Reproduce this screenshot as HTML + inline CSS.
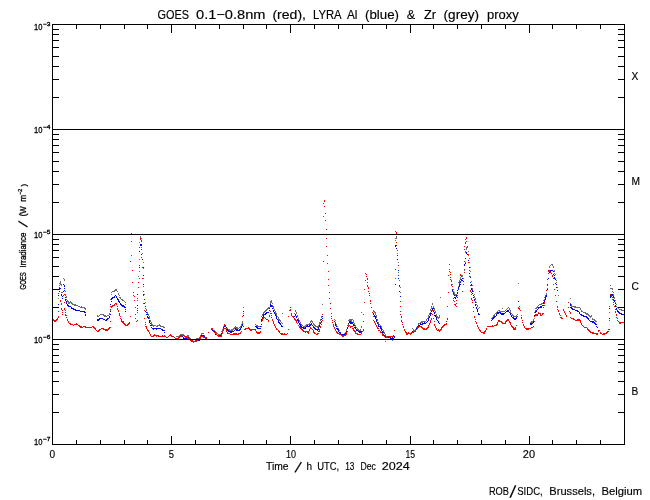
<!DOCTYPE html><html><head><meta charset="utf-8"><title>GOES LYRA proxy</title><style>html,body{margin:0;padding:0;background:#fff}svg{display:block}text{font-family:"Liberation Sans",sans-serif;fill:#000;stroke:#000;stroke-width:.15px}.s{stroke-width:.3px}</style></head><body>
<svg xmlns="http://www.w3.org/2000/svg" width="650" height="500" viewBox="0 0 650 500" shape-rendering="crispEdges">
<rect width="650" height="500" fill="#fff"/>
<path d="M58 298h1v1h-1zM59 285h1v1h-1zM59 283h1v1h-1zM60 282h1v1h-1zM60 281h1v1h-1zM60 283h1v1h-1zM60 284h1v1h-1zM61 284h1v1h-1zM61 285h1v1h-1zM61 292h1v1h-1zM62 292h1v1h-1zM63 278h1v1h-1zM64 279h1v1h-1zM64 280h1v1h-1zM65 291h1v1h-1zM65 294h1v1h-1zM65 295h1v1h-1zM66 296h1v1h-1zM66 297h1v1h-1zM66 299h1v1h-1zM67 300h1v1h-1zM67 301h1v1h-1zM68 301h1v1h-1zM68 302h1v1h-1zM68 303h1v1h-1zM69 302h1v1h-1zM69 303h1v1h-1zM70 302h1v1h-1zM70 301h1v1h-1zM71 302h1v1h-1zM71 303h1v1h-1zM72 304h1v1h-1zM72 303h1v1h-1zM73 304h1v1h-1zM74 304h1v1h-1zM74 305h1v1h-1zM75 304h1v1h-1zM75 305h1v1h-1zM76 305h1v1h-1zM77 305h1v1h-1zM78 306h1v1h-1zM79 306h1v1h-1zM80 307h1v1h-1zM81 306h1v1h-1zM81 307h1v1h-1zM82 307h1v1h-1zM83 307h1v1h-1zM84 307h1v1h-1zM84 308h1v1h-1zM85 308h1v1h-1zM85 309h1v1h-1zM97 315h1v1h-1zM97 316h1v1h-1zM98 316h1v1h-1zM99 315h1v1h-1zM100 314h1v1h-1zM101 314h1v1h-1zM102 314h1v1h-1zM103 314h1v1h-1zM103 315h1v1h-1zM104 315h1v1h-1zM104 316h1v1h-1zM105 316h1v1h-1zM105 315h1v1h-1zM106 316h1v1h-1zM107 315h1v1h-1zM108 315h1v1h-1zM109 314h1v1h-1zM109 313h1v1h-1zM110 311h1v1h-1zM110 310h1v1h-1zM110 299h1v1h-1zM111 294h1v1h-1zM111 292h1v1h-1zM112 291h1v1h-1zM113 291h1v1h-1zM114 291h1v1h-1zM114 290h1v1h-1zM115 290h1v1h-1zM115 289h1v1h-1zM116 289h1v1h-1zM116 290h1v1h-1zM117 291h1v1h-1zM118 293h1v1h-1zM118 294h1v1h-1zM119 295h1v1h-1zM119 297h1v1h-1zM120 297h1v1h-1zM120 298h1v1h-1zM121 299h1v1h-1zM122 299h1v1h-1zM122 300h1v1h-1zM123 300h1v1h-1zM124 301h1v1h-1zM125 302h1v1h-1zM125 304h1v1h-1zM125 307h1v1h-1zM137 300h1v1h-1zM138 282h1v1h-1zM138 276h1v1h-1zM139 271h1v1h-1zM139 259h1v1h-1zM139 242h1v1h-1zM140 236h1v1h-1zM140 237h1v1h-1zM141 238h1v1h-1zM141 247h1v1h-1zM142 253h1v1h-1zM143 262h1v1h-1zM143 268h1v1h-1zM143 278h1v1h-1zM143 286h1v1h-1zM144 294h1v1h-1zM145 302h1v1h-1zM145 308h1v1h-1zM146 309h1v1h-1zM146 310h1v1h-1zM147 312h1v1h-1zM147 313h1v1h-1zM148 314h1v1h-1zM148 315h1v1h-1zM149 316h1v1h-1zM149 317h1v1h-1zM149 318h1v1h-1zM150 320h1v1h-1zM150 321h1v1h-1zM151 322h1v1h-1zM151 323h1v1h-1zM151 324h1v1h-1zM152 324h1v1h-1zM152 325h1v1h-1zM153 325h1v1h-1zM153 326h1v1h-1zM154 325h1v1h-1zM155 325h1v1h-1zM156 326h1v1h-1zM157 326h1v1h-1zM157 325h1v1h-1zM158 325h1v1h-1zM159 324h1v1h-1zM159 325h1v1h-1zM160 325h1v1h-1zM160 326h1v1h-1zM161 326h1v1h-1zM162 326h1v1h-1zM163 326h1v1h-1zM163 327h1v1h-1zM164 327h1v1h-1zM176 336h1v1h-1zM177 336h1v1h-1zM178 337h1v1h-1zM178 336h1v1h-1zM179 336h1v1h-1zM179 335h1v1h-1zM180 335h1v1h-1zM180 334h1v1h-1zM181 334h1v1h-1zM182 334h1v1h-1zM183 334h1v1h-1zM184 335h1v1h-1zM185 336h1v1h-1zM186 336h1v1h-1zM187 336h1v1h-1zM187 335h1v1h-1zM188 335h1v1h-1zM188 336h1v1h-1zM189 337h1v1h-1zM189 338h1v1h-1zM190 338h1v1h-1zM190 340h1v1h-1zM191 340h1v1h-1zM192 341h1v1h-1zM193 342h1v1h-1zM193 341h1v1h-1zM194 341h1v1h-1zM195 341h1v1h-1zM195 340h1v1h-1zM195 339h1v1h-1zM196 338h1v1h-1zM197 338h1v1h-1zM198 338h1v1h-1zM199 338h1v1h-1zM199 337h1v1h-1zM200 337h1v1h-1zM200 336h1v1h-1zM200 335h1v1h-1zM201 334h1v1h-1zM201 333h1v1h-1zM202 333h1v1h-1zM203 333h1v1h-1zM204 335h1v1h-1zM205 337h1v1h-1zM206 337h1v1h-1zM206 338h1v1h-1zM211 328h1v1h-1zM212 329h1v1h-1zM213 330h1v1h-1zM214 330h1v1h-1zM214 331h1v1h-1zM215 331h1v1h-1zM216 332h1v1h-1zM216 333h1v1h-1zM217 333h1v1h-1zM218 334h1v1h-1zM219 334h1v1h-1zM220 334h1v1h-1zM221 334h1v1h-1zM221 333h1v1h-1zM221 331h1v1h-1zM222 330h1v1h-1zM222 329h1v1h-1zM223 327h1v1h-1zM223 326h1v1h-1zM224 324h1v1h-1zM225 325h1v1h-1zM225 326h1v1h-1zM226 327h1v1h-1zM226 328h1v1h-1zM227 328h1v1h-1zM228 329h1v1h-1zM228 330h1v1h-1zM229 329h1v1h-1zM229 330h1v1h-1zM230 330h1v1h-1zM231 330h1v1h-1zM231 329h1v1h-1zM232 329h1v1h-1zM232 330h1v1h-1zM233 329h1v1h-1zM233 328h1v1h-1zM234 328h1v1h-1zM234 327h1v1h-1zM235 326h1v1h-1zM235 327h1v1h-1zM236 327h1v1h-1zM236 328h1v1h-1zM237 327h1v1h-1zM237 328h1v1h-1zM238 328h1v1h-1zM239 327h1v1h-1zM240 327h1v1h-1zM240 326h1v1h-1zM241 325h1v1h-1zM241 324h1v1h-1zM242 322h1v1h-1zM242 321h1v1h-1zM243 313h1v1h-1zM243 307h1v1h-1zM255 324h1v1h-1zM256 325h1v1h-1zM257 325h1v1h-1zM257 326h1v1h-1zM258 326h1v1h-1zM259 326h1v1h-1zM260 326h1v1h-1zM261 321h1v1h-1zM261 316h1v1h-1zM262 315h1v1h-1zM262 314h1v1h-1zM263 313h1v1h-1zM263 312h1v1h-1zM264 312h1v1h-1zM264 311h1v1h-1zM265 311h1v1h-1zM265 310h1v1h-1zM266 310h1v1h-1zM266 309h1v1h-1zM267 308h1v1h-1zM267 309h1v1h-1zM268 308h1v1h-1zM268 307h1v1h-1zM269 307h1v1h-1zM270 303h1v1h-1zM270 302h1v1h-1zM270 301h1v1h-1zM271 300h1v1h-1zM271 301h1v1h-1zM271 302h1v1h-1zM272 303h1v1h-1zM272 305h1v1h-1zM273 306h1v1h-1zM273 307h1v1h-1zM273 308h1v1h-1zM274 309h1v1h-1zM274 310h1v1h-1zM275 311h1v1h-1zM275 312h1v1h-1zM275 313h1v1h-1zM276 313h1v1h-1zM276 314h1v1h-1zM276 315h1v1h-1zM277 316h1v1h-1zM278 317h1v1h-1zM278 318h1v1h-1zM278 319h1v1h-1zM279 319h1v1h-1zM279 320h1v1h-1zM280 320h1v1h-1zM280 321h1v1h-1zM281 322h1v1h-1zM282 323h1v1h-1zM282 313h1v1h-1zM294 313h1v1h-1zM295 311h1v1h-1zM295 310h1v1h-1zM296 312h1v1h-1zM296 313h1v1h-1zM297 315h1v1h-1zM297 316h1v1h-1zM298 318h1v1h-1zM298 319h1v1h-1zM299 320h1v1h-1zM299 321h1v1h-1zM300 322h1v1h-1zM300 323h1v1h-1zM301 324h1v1h-1zM301 325h1v1h-1zM302 325h1v1h-1zM303 326h1v1h-1zM304 327h1v1h-1zM304 326h1v1h-1zM305 326h1v1h-1zM305 325h1v1h-1zM306 325h1v1h-1zM306 324h1v1h-1zM307 324h1v1h-1zM308 324h1v1h-1zM309 324h1v1h-1zM309 323h1v1h-1zM310 322h1v1h-1zM310 321h1v1h-1zM311 321h1v1h-1zM311 320h1v1h-1zM312 321h1v1h-1zM312 322h1v1h-1zM313 323h1v1h-1zM313 324h1v1h-1zM314 324h1v1h-1zM314 325h1v1h-1zM315 325h1v1h-1zM315 326h1v1h-1zM316 326h1v1h-1zM317 327h1v1h-1zM317 326h1v1h-1zM318 326h1v1h-1zM318 325h1v1h-1zM319 324h1v1h-1zM319 323h1v1h-1zM319 322h1v1h-1zM320 322h1v1h-1zM320 320h1v1h-1zM320 319h1v1h-1zM321 317h1v1h-1zM321 316h1v1h-1zM322 304h1v1h-1zM334 319h1v1h-1zM335 320h1v1h-1zM335 322h1v1h-1zM336 324h1v1h-1zM336 325h1v1h-1zM336 326h1v1h-1zM337 326h1v1h-1zM337 328h1v1h-1zM338 328h1v1h-1zM338 329h1v1h-1zM338 330h1v1h-1zM339 330h1v1h-1zM339 332h1v1h-1zM339 333h1v1h-1zM340 332h1v1h-1zM340 334h1v1h-1zM341 334h1v1h-1zM342 334h1v1h-1zM342 335h1v1h-1zM343 334h1v1h-1zM343 335h1v1h-1zM344 334h1v1h-1zM344 333h1v1h-1zM345 332h1v1h-1zM346 330h1v1h-1zM346 329h1v1h-1zM347 327h1v1h-1zM347 325h1v1h-1zM348 324h1v1h-1zM348 320h1v1h-1zM349 320h1v1h-1zM349 319h1v1h-1zM350 319h1v1h-1zM350 320h1v1h-1zM351 321h1v1h-1zM351 320h1v1h-1zM351 319h1v1h-1zM352 319h1v1h-1zM353 320h1v1h-1zM353 321h1v1h-1zM353 322h1v1h-1zM354 323h1v1h-1zM354 324h1v1h-1zM355 325h1v1h-1zM355 326h1v1h-1zM356 327h1v1h-1zM357 328h1v1h-1zM357 329h1v1h-1zM358 329h1v1h-1zM358 330h1v1h-1zM359 330h1v1h-1zM360 330h1v1h-1zM360 329h1v1h-1zM361 327h1v1h-1zM361 326h1v1h-1zM361 312h1v1h-1zM373 310h1v1h-1zM373 311h1v1h-1zM374 311h1v1h-1zM374 312h1v1h-1zM375 312h1v1h-1zM375 313h1v1h-1zM375 314h1v1h-1zM376 315h1v1h-1zM376 316h1v1h-1zM376 317h1v1h-1zM377 319h1v1h-1zM377 320h1v1h-1zM378 322h1v1h-1zM378 323h1v1h-1zM378 324h1v1h-1zM379 324h1v1h-1zM380 325h1v1h-1zM380 326h1v1h-1zM381 326h1v1h-1zM381 327h1v1h-1zM381 328h1v1h-1zM382 329h1v1h-1zM383 330h1v1h-1zM383 331h1v1h-1zM383 332h1v1h-1zM384 332h1v1h-1zM384 333h1v1h-1zM385 334h1v1h-1zM385 335h1v1h-1zM385 336h1v1h-1zM386 336h1v1h-1zM387 337h1v1h-1zM387 336h1v1h-1zM388 337h1v1h-1zM388 336h1v1h-1zM389 337h1v1h-1zM390 337h1v1h-1zM390 338h1v1h-1zM391 338h1v1h-1zM391 339h1v1h-1zM392 340h1v1h-1zM392 339h1v1h-1zM393 339h1v1h-1zM393 338h1v1h-1zM394 336h1v1h-1zM395 278h1v1h-1zM395 240h1v1h-1zM395 238h1v1h-1zM396 237h1v1h-1zM396 236h1v1h-1zM396 238h1v1h-1zM397 253h1v1h-1zM398 262h1v1h-1zM398 272h1v1h-1zM399 280h1v1h-1zM400 287h1v1h-1zM400 292h1v1h-1zM385 341h1v1h-1zM412 328h1v1h-1zM413 329h1v1h-1zM413 330h1v1h-1zM414 330h1v1h-1zM415 330h1v1h-1zM415 329h1v1h-1zM416 328h1v1h-1zM416 327h1v1h-1zM417 326h1v1h-1zM418 325h1v1h-1zM418 324h1v1h-1zM418 323h1v1h-1zM419 323h1v1h-1zM420 322h1v1h-1zM421 322h1v1h-1zM421 321h1v1h-1zM422 322h1v1h-1zM422 321h1v1h-1zM423 321h1v1h-1zM424 321h1v1h-1zM425 321h1v1h-1zM426 320h1v1h-1zM426 319h1v1h-1zM427 318h1v1h-1zM428 317h1v1h-1zM428 316h1v1h-1zM428 315h1v1h-1zM429 314h1v1h-1zM429 313h1v1h-1zM430 312h1v1h-1zM430 310h1v1h-1zM430 309h1v1h-1zM431 308h1v1h-1zM431 307h1v1h-1zM431 306h1v1h-1zM432 303h1v1h-1zM432 304h1v1h-1zM433 306h1v1h-1zM433 307h1v1h-1zM433 308h1v1h-1zM434 308h1v1h-1zM434 309h1v1h-1zM434 310h1v1h-1zM435 311h1v1h-1zM435 312h1v1h-1zM436 314h1v1h-1zM436 315h1v1h-1zM436 316h1v1h-1zM437 316h1v1h-1zM437 317h1v1h-1zM438 318h1v1h-1zM438 317h1v1h-1zM439 317h1v1h-1zM439 316h1v1h-1zM439 315h1v1h-1zM440 297h1v1h-1zM452 284h1v1h-1zM453 289h1v1h-1zM453 291h1v1h-1zM454 292h1v1h-1zM454 293h1v1h-1zM454 294h1v1h-1zM455 294h1v1h-1zM455 295h1v1h-1zM456 295h1v1h-1zM456 294h1v1h-1zM457 290h1v1h-1zM458 286h1v1h-1zM458 282h1v1h-1zM459 281h1v1h-1zM459 280h1v1h-1zM460 279h1v1h-1zM460 278h1v1h-1zM460 277h1v1h-1zM461 276h1v1h-1zM462 276h1v1h-1zM462 275h1v1h-1zM463 278h1v1h-1zM464 270h1v1h-1zM465 262h1v1h-1zM465 258h1v1h-1zM465 252h1v1h-1zM465 251h1v1h-1zM466 249h1v1h-1zM466 248h1v1h-1zM466 247h1v1h-1zM467 247h1v1h-1zM468 251h1v1h-1zM468 255h1v1h-1zM469 258h1v1h-1zM469 262h1v1h-1zM470 267h1v1h-1zM470 271h1v1h-1zM470 276h1v1h-1zM471 281h1v1h-1zM472 285h1v1h-1zM472 288h1v1h-1zM472 289h1v1h-1zM473 291h1v1h-1zM474 294h1v1h-1zM474 296h1v1h-1zM474 297h1v1h-1zM475 298h1v1h-1zM475 299h1v1h-1zM475 301h1v1h-1zM476 302h1v1h-1zM476 304h1v1h-1zM477 305h1v1h-1zM477 306h1v1h-1zM478 308h1v1h-1zM479 307h1v1h-1zM479 291h1v1h-1zM491 318h1v1h-1zM492 317h1v1h-1zM493 316h1v1h-1zM493 315h1v1h-1zM494 315h1v1h-1zM494 314h1v1h-1zM495 313h1v1h-1zM496 313h1v1h-1zM496 312h1v1h-1zM497 311h1v1h-1zM498 310h1v1h-1zM499 310h1v1h-1zM499 311h1v1h-1zM500 311h1v1h-1zM501 311h1v1h-1zM502 311h1v1h-1zM503 311h1v1h-1zM504 311h1v1h-1zM505 310h1v1h-1zM506 309h1v1h-1zM507 308h1v1h-1zM508 307h1v1h-1zM509 308h1v1h-1zM509 309h1v1h-1zM510 310h1v1h-1zM510 311h1v1h-1zM510 312h1v1h-1zM511 313h1v1h-1zM512 314h1v1h-1zM512 315h1v1h-1zM513 315h1v1h-1zM513 316h1v1h-1zM514 316h1v1h-1zM515 316h1v1h-1zM516 316h1v1h-1zM516 315h1v1h-1zM517 314h1v1h-1zM518 283h1v1h-1zM502 308h1v1h-1zM530 322h1v1h-1zM531 322h1v1h-1zM531 321h1v1h-1zM532 321h1v1h-1zM532 322h1v1h-1zM533 320h1v1h-1zM533 319h1v1h-1zM534 318h1v1h-1zM534 312h1v1h-1zM535 311h1v1h-1zM535 310h1v1h-1zM535 308h1v1h-1zM536 308h1v1h-1zM536 307h1v1h-1zM537 307h1v1h-1zM537 306h1v1h-1zM538 305h1v1h-1zM539 304h1v1h-1zM540 304h1v1h-1zM541 304h1v1h-1zM541 303h1v1h-1zM542 303h1v1h-1zM543 302h1v1h-1zM543 300h1v1h-1zM544 299h1v1h-1zM544 297h1v1h-1zM545 296h1v1h-1zM545 295h1v1h-1zM546 294h1v1h-1zM546 293h1v1h-1zM547 288h1v1h-1zM548 278h1v1h-1zM548 270h1v1h-1zM549 267h1v1h-1zM549 266h1v1h-1zM550 265h1v1h-1zM551 264h1v1h-1zM552 264h1v1h-1zM552 265h1v1h-1zM553 266h1v1h-1zM553 267h1v1h-1zM554 270h1v1h-1zM554 271h1v1h-1zM554 273h1v1h-1zM555 274h1v1h-1zM555 278h1v1h-1zM556 280h1v1h-1zM556 282h1v1h-1zM557 287h1v1h-1zM558 295h1v1h-1zM570 298h1v1h-1zM570 303h1v1h-1zM571 304h1v1h-1zM571 305h1v1h-1zM571 306h1v1h-1zM572 306h1v1h-1zM573 306h1v1h-1zM574 306h1v1h-1zM574 307h1v1h-1zM575 306h1v1h-1zM575 307h1v1h-1zM576 307h1v1h-1zM577 307h1v1h-1zM578 307h1v1h-1zM579 307h1v1h-1zM580 308h1v1h-1zM580 309h1v1h-1zM581 310h1v1h-1zM581 311h1v1h-1zM582 311h1v1h-1zM583 312h1v1h-1zM584 312h1v1h-1zM585 312h1v1h-1zM585 313h1v1h-1zM586 314h1v1h-1zM586 313h1v1h-1zM587 314h1v1h-1zM587 313h1v1h-1zM588 314h1v1h-1zM588 315h1v1h-1zM589 315h1v1h-1zM589 316h1v1h-1zM590 317h1v1h-1zM590 316h1v1h-1zM591 316h1v1h-1zM591 315h1v1h-1zM592 318h1v1h-1zM592 319h1v1h-1zM593 319h1v1h-1zM594 319h1v1h-1zM594 320h1v1h-1zM595 320h1v1h-1zM595 321h1v1h-1zM596 321h1v1h-1zM609 312h1v1h-1zM610 285h1v1h-1zM610 288h1v1h-1zM611 288h1v1h-1zM612 288h1v1h-1zM612 289h1v1h-1zM612 291h1v1h-1zM613 292h1v1h-1zM613 294h1v1h-1zM613 295h1v1h-1zM614 297h1v1h-1zM614 298h1v1h-1zM615 300h1v1h-1zM615 302h1v1h-1zM615 303h1v1h-1zM616 304h1v1h-1zM616 306h1v1h-1zM617 307h1v1h-1zM618 308h1v1h-1zM619 309h1v1h-1zM620 309h1v1h-1zM621 309h1v1h-1zM621 310h1v1h-1zM622 310h1v1h-1zM623 310h1v1h-1z" fill="#6e6e6e"/>
<path d="M58 304h1v1h-1zM58 295h1v1h-1zM59 291h1v1h-1zM59 289h1v1h-1zM59 288h1v1h-1zM60 288h1v1h-1zM61 294h1v1h-1zM61 295h1v1h-1zM62 296h1v1h-1zM62 298h1v1h-1zM63 291h1v1h-1zM63 284h1v1h-1zM64 285h1v1h-1zM64 286h1v1h-1zM64 288h1v1h-1zM64 290h1v1h-1zM65 297h1v1h-1zM65 299h1v1h-1zM65 300h1v1h-1zM66 301h1v1h-1zM66 302h1v1h-1zM66 303h1v1h-1zM67 304h1v1h-1zM67 305h1v1h-1zM68 305h1v1h-1zM68 306h1v1h-1zM69 306h1v1h-1zM70 306h1v1h-1zM71 307h1v1h-1zM71 308h1v1h-1zM72 308h1v1h-1zM73 309h1v1h-1zM73 308h1v1h-1zM74 309h1v1h-1zM75 309h1v1h-1zM75 310h1v1h-1zM76 310h1v1h-1zM77 310h1v1h-1zM78 310h1v1h-1zM79 310h1v1h-1zM80 311h1v1h-1zM81 311h1v1h-1zM82 311h1v1h-1zM83 311h1v1h-1zM84 312h1v1h-1zM84 311h1v1h-1zM85 312h1v1h-1zM85 314h1v1h-1zM85 315h1v1h-1zM97 320h1v1h-1zM97 319h1v1h-1zM98 320h1v1h-1zM98 319h1v1h-1zM99 319h1v1h-1zM99 318h1v1h-1zM100 318h1v1h-1zM101 318h1v1h-1zM102 318h1v1h-1zM103 319h1v1h-1zM104 319h1v1h-1zM105 320h1v1h-1zM106 319h1v1h-1zM106 320h1v1h-1zM107 319h1v1h-1zM107 318h1v1h-1zM108 318h1v1h-1zM109 317h1v1h-1zM109 316h1v1h-1zM110 314h1v1h-1zM110 311h1v1h-1zM110 306h1v1h-1zM110 304h1v1h-1zM111 301h1v1h-1zM111 299h1v1h-1zM111 298h1v1h-1zM112 298h1v1h-1zM112 297h1v1h-1zM113 297h1v1h-1zM114 296h1v1h-1zM114 297h1v1h-1zM115 295h1v1h-1zM116 296h1v1h-1zM116 297h1v1h-1zM117 298h1v1h-1zM117 299h1v1h-1zM118 299h1v1h-1zM118 300h1v1h-1zM118 301h1v1h-1zM119 301h1v1h-1zM119 302h1v1h-1zM120 303h1v1h-1zM120 304h1v1h-1zM121 305h1v1h-1zM121 304h1v1h-1zM122 305h1v1h-1zM122 306h1v1h-1zM123 305h1v1h-1zM123 306h1v1h-1zM124 306h1v1h-1zM124 307h1v1h-1zM125 307h1v1h-1zM125 309h1v1h-1zM125 311h1v1h-1zM137 310h1v1h-1zM137 305h1v1h-1zM137 294h1v1h-1zM138 287h1v1h-1zM139 278h1v1h-1zM139 267h1v1h-1zM139 251h1v1h-1zM140 244h1v1h-1zM140 245h1v1h-1zM141 244h1v1h-1zM141 245h1v1h-1zM141 254h1v1h-1zM142 259h1v1h-1zM143 267h1v1h-1zM143 275h1v1h-1zM143 284h1v1h-1zM143 294h1v1h-1zM144 299h1v1h-1zM144 303h1v1h-1zM145 306h1v1h-1zM145 311h1v1h-1zM146 312h1v1h-1zM146 314h1v1h-1zM147 314h1v1h-1zM147 316h1v1h-1zM147 317h1v1h-1zM148 317h1v1h-1zM148 318h1v1h-1zM149 320h1v1h-1zM149 321h1v1h-1zM149 322h1v1h-1zM150 323h1v1h-1zM150 325h1v1h-1zM151 325h1v1h-1zM151 327h1v1h-1zM152 328h1v1h-1zM153 328h1v1h-1zM153 329h1v1h-1zM154 328h1v1h-1zM155 328h1v1h-1zM156 328h1v1h-1zM156 329h1v1h-1zM157 328h1v1h-1zM158 328h1v1h-1zM159 328h1v1h-1zM160 328h1v1h-1zM161 329h1v1h-1zM162 329h1v1h-1zM162 330h1v1h-1zM163 330h1v1h-1zM164 330h1v1h-1zM164 332h1v1h-1zM176 338h1v1h-1zM177 338h1v1h-1zM178 338h1v1h-1zM179 337h1v1h-1zM179 336h1v1h-1zM180 336h1v1h-1zM180 335h1v1h-1zM181 335h1v1h-1zM182 336h1v1h-1zM183 337h1v1h-1zM183 338h1v1h-1zM184 338h1v1h-1zM185 338h1v1h-1zM185 337h1v1h-1zM186 338h1v1h-1zM187 338h1v1h-1zM187 337h1v1h-1zM188 337h1v1h-1zM188 338h1v1h-1zM189 338h1v1h-1zM190 339h1v1h-1zM190 340h1v1h-1zM191 341h1v1h-1zM191 340h1v1h-1zM192 341h1v1h-1zM193 341h1v1h-1zM194 341h1v1h-1zM195 341h1v1h-1zM195 340h1v1h-1zM196 341h1v1h-1zM196 340h1v1h-1zM197 340h1v1h-1zM198 340h1v1h-1zM199 340h1v1h-1zM199 339h1v1h-1zM200 338h1v1h-1zM200 336h1v1h-1zM201 335h1v1h-1zM202 335h1v1h-1zM203 335h1v1h-1zM203 336h1v1h-1zM204 336h1v1h-1zM204 337h1v1h-1zM205 338h1v1h-1zM205 337h1v1h-1zM206 338h1v1h-1zM211 328h1v1h-1zM212 329h1v1h-1zM212 330h1v1h-1zM213 330h1v1h-1zM213 331h1v1h-1zM214 331h1v1h-1zM214 332h1v1h-1zM215 333h1v1h-1zM215 334h1v1h-1zM216 334h1v1h-1zM217 335h1v1h-1zM218 335h1v1h-1zM219 335h1v1h-1zM219 336h1v1h-1zM220 335h1v1h-1zM221 335h1v1h-1zM221 334h1v1h-1zM221 333h1v1h-1zM222 333h1v1h-1zM222 332h1v1h-1zM222 331h1v1h-1zM223 329h1v1h-1zM223 327h1v1h-1zM224 326h1v1h-1zM224 325h1v1h-1zM225 325h1v1h-1zM225 326h1v1h-1zM226 327h1v1h-1zM226 329h1v1h-1zM227 329h1v1h-1zM227 330h1v1h-1zM228 330h1v1h-1zM228 331h1v1h-1zM229 331h1v1h-1zM230 331h1v1h-1zM230 332h1v1h-1zM231 331h1v1h-1zM231 332h1v1h-1zM232 331h1v1h-1zM233 331h1v1h-1zM234 330h1v1h-1zM235 329h1v1h-1zM235 328h1v1h-1zM236 329h1v1h-1zM236 330h1v1h-1zM237 329h1v1h-1zM237 330h1v1h-1zM238 330h1v1h-1zM239 329h1v1h-1zM239 330h1v1h-1zM240 329h1v1h-1zM240 328h1v1h-1zM241 327h1v1h-1zM241 326h1v1h-1zM242 325h1v1h-1zM242 324h1v1h-1zM243 315h1v1h-1zM243 311h1v1h-1zM255 326h1v1h-1zM256 327h1v1h-1zM256 326h1v1h-1zM257 328h1v1h-1zM257 327h1v1h-1zM258 328h1v1h-1zM259 328h1v1h-1zM260 328h1v1h-1zM260 326h1v1h-1zM261 324h1v1h-1zM261 320h1v1h-1zM261 319h1v1h-1zM262 317h1v1h-1zM263 316h1v1h-1zM263 315h1v1h-1zM263 314h1v1h-1zM264 314h1v1h-1zM265 314h1v1h-1zM265 313h1v1h-1zM266 312h1v1h-1zM266 313h1v1h-1zM267 312h1v1h-1zM268 312h1v1h-1zM269 310h1v1h-1zM269 308h1v1h-1zM270 306h1v1h-1zM270 305h1v1h-1zM270 304h1v1h-1zM271 305h1v1h-1zM271 306h1v1h-1zM272 306h1v1h-1zM272 308h1v1h-1zM273 310h1v1h-1zM273 311h1v1h-1zM274 312h1v1h-1zM274 313h1v1h-1zM275 314h1v1h-1zM275 315h1v1h-1zM276 316h1v1h-1zM276 317h1v1h-1zM276 318h1v1h-1zM277 319h1v1h-1zM278 320h1v1h-1zM278 321h1v1h-1zM278 322h1v1h-1zM279 322h1v1h-1zM279 323h1v1h-1zM280 323h1v1h-1zM280 324h1v1h-1zM281 325h1v1h-1zM281 326h1v1h-1zM282 326h1v1h-1zM294 316h1v1h-1zM295 315h1v1h-1zM295 314h1v1h-1zM296 316h1v1h-1zM296 317h1v1h-1zM297 319h1v1h-1zM297 320h1v1h-1zM298 320h1v1h-1zM298 321h1v1h-1zM298 322h1v1h-1zM299 323h1v1h-1zM299 324h1v1h-1zM300 324h1v1h-1zM300 325h1v1h-1zM300 326h1v1h-1zM301 326h1v1h-1zM301 327h1v1h-1zM302 327h1v1h-1zM303 328h1v1h-1zM303 327h1v1h-1zM304 328h1v1h-1zM305 328h1v1h-1zM305 327h1v1h-1zM306 326h1v1h-1zM307 325h1v1h-1zM307 326h1v1h-1zM308 326h1v1h-1zM309 326h1v1h-1zM309 325h1v1h-1zM310 325h1v1h-1zM310 324h1v1h-1zM311 324h1v1h-1zM311 323h1v1h-1zM312 325h1v1h-1zM313 326h1v1h-1zM313 327h1v1h-1zM314 327h1v1h-1zM314 328h1v1h-1zM315 328h1v1h-1zM315 329h1v1h-1zM316 329h1v1h-1zM317 330h1v1h-1zM317 329h1v1h-1zM318 329h1v1h-1zM318 328h1v1h-1zM318 327h1v1h-1zM319 326h1v1h-1zM319 325h1v1h-1zM320 323h1v1h-1zM321 321h1v1h-1zM321 319h1v1h-1zM322 318h1v1h-1zM322 316h1v1h-1zM334 321h1v1h-1zM335 323h1v1h-1zM335 324h1v1h-1zM335 325h1v1h-1zM336 326h1v1h-1zM336 328h1v1h-1zM337 328h1v1h-1zM337 329h1v1h-1zM338 329h1v1h-1zM338 330h1v1h-1zM338 331h1v1h-1zM339 332h1v1h-1zM340 332h1v1h-1zM340 333h1v1h-1zM340 334h1v1h-1zM341 334h1v1h-1zM341 335h1v1h-1zM342 334h1v1h-1zM342 335h1v1h-1zM343 335h1v1h-1zM343 334h1v1h-1zM344 335h1v1h-1zM344 334h1v1h-1zM345 334h1v1h-1zM345 333h1v1h-1zM346 332h1v1h-1zM346 331h1v1h-1zM347 328h1v1h-1zM347 327h1v1h-1zM348 323h1v1h-1zM349 322h1v1h-1zM349 321h1v1h-1zM350 321h1v1h-1zM350 322h1v1h-1zM350 323h1v1h-1zM351 322h1v1h-1zM351 323h1v1h-1zM352 322h1v1h-1zM352 323h1v1h-1zM353 324h1v1h-1zM353 325h1v1h-1zM354 325h1v1h-1zM354 327h1v1h-1zM355 327h1v1h-1zM355 328h1v1h-1zM356 329h1v1h-1zM356 330h1v1h-1zM357 330h1v1h-1zM358 331h1v1h-1zM359 332h1v1h-1zM359 331h1v1h-1zM360 331h1v1h-1zM360 332h1v1h-1zM361 332h1v1h-1zM361 331h1v1h-1zM373 313h1v1h-1zM373 314h1v1h-1zM374 315h1v1h-1zM374 316h1v1h-1zM375 316h1v1h-1zM375 317h1v1h-1zM375 318h1v1h-1zM376 319h1v1h-1zM376 320h1v1h-1zM376 321h1v1h-1zM377 322h1v1h-1zM377 323h1v1h-1zM378 324h1v1h-1zM378 325h1v1h-1zM378 326h1v1h-1zM379 326h1v1h-1zM380 326h1v1h-1zM380 327h1v1h-1zM380 328h1v1h-1zM381 328h1v1h-1zM381 329h1v1h-1zM381 330h1v1h-1zM382 331h1v1h-1zM382 332h1v1h-1zM383 332h1v1h-1zM383 334h1v1h-1zM384 335h1v1h-1zM385 336h1v1h-1zM385 337h1v1h-1zM386 337h1v1h-1zM387 337h1v1h-1zM388 337h1v1h-1zM389 337h1v1h-1zM390 337h1v1h-1zM390 338h1v1h-1zM391 338h1v1h-1zM392 338h1v1h-1zM392 337h1v1h-1zM393 338h1v1h-1zM394 337h1v1h-1zM394 336h1v1h-1zM395 284h1v1h-1zM395 246h1v1h-1zM395 245h1v1h-1zM396 245h1v1h-1zM396 248h1v1h-1zM397 255h1v1h-1zM397 259h1v1h-1zM398 265h1v1h-1zM398 270h1v1h-1zM398 278h1v1h-1zM399 285h1v1h-1zM399 291h1v1h-1zM400 296h1v1h-1zM400 301h1v1h-1zM412 332h1v1h-1zM412 331h1v1h-1zM413 331h1v1h-1zM413 332h1v1h-1zM414 331h1v1h-1zM415 331h1v1h-1zM415 330h1v1h-1zM416 329h1v1h-1zM416 328h1v1h-1zM417 327h1v1h-1zM417 326h1v1h-1zM418 326h1v1h-1zM418 325h1v1h-1zM419 325h1v1h-1zM420 324h1v1h-1zM420 323h1v1h-1zM421 324h1v1h-1zM422 324h1v1h-1zM422 323h1v1h-1zM423 323h1v1h-1zM424 322h1v1h-1zM424 323h1v1h-1zM425 323h1v1h-1zM426 322h1v1h-1zM427 321h1v1h-1zM428 320h1v1h-1zM428 319h1v1h-1zM428 318h1v1h-1zM429 317h1v1h-1zM429 316h1v1h-1zM430 315h1v1h-1zM430 314h1v1h-1zM430 313h1v1h-1zM431 313h1v1h-1zM431 311h1v1h-1zM431 310h1v1h-1zM432 309h1v1h-1zM432 308h1v1h-1zM433 308h1v1h-1zM433 310h1v1h-1zM433 311h1v1h-1zM434 312h1v1h-1zM434 313h1v1h-1zM434 315h1v1h-1zM435 315h1v1h-1zM435 316h1v1h-1zM436 317h1v1h-1zM436 318h1v1h-1zM436 319h1v1h-1zM437 320h1v1h-1zM438 321h1v1h-1zM438 322h1v1h-1zM439 323h1v1h-1zM452 289h1v1h-1zM452 290h1v1h-1zM453 292h1v1h-1zM453 293h1v1h-1zM453 294h1v1h-1zM454 295h1v1h-1zM454 297h1v1h-1zM455 298h1v1h-1zM455 297h1v1h-1zM456 296h1v1h-1zM456 295h1v1h-1zM457 293h1v1h-1zM457 292h1v1h-1zM457 290h1v1h-1zM458 288h1v1h-1zM458 287h1v1h-1zM459 286h1v1h-1zM459 285h1v1h-1zM459 284h1v1h-1zM460 284h1v1h-1zM460 282h1v1h-1zM460 281h1v1h-1zM461 280h1v1h-1zM461 279h1v1h-1zM462 278h1v1h-1zM462 280h1v1h-1zM463 281h1v1h-1zM464 272h1v1h-1zM464 269h1v1h-1zM464 265h1v1h-1zM464 264h1v1h-1zM465 263h1v1h-1zM465 258h1v1h-1zM466 252h1v1h-1zM466 253h1v1h-1zM467 254h1v1h-1zM468 260h1v1h-1zM469 267h1v1h-1zM469 273h1v1h-1zM470 277h1v1h-1zM470 282h1v1h-1zM471 284h1v1h-1zM471 285h1v1h-1zM471 288h1v1h-1zM471 289h1v1h-1zM472 290h1v1h-1zM472 291h1v1h-1zM472 293h1v1h-1zM473 295h1v1h-1zM473 297h1v1h-1zM474 299h1v1h-1zM474 300h1v1h-1zM475 302h1v1h-1zM475 304h1v1h-1zM475 305h1v1h-1zM476 307h1v1h-1zM476 308h1v1h-1zM477 309h1v1h-1zM477 310h1v1h-1zM477 311h1v1h-1zM478 313h1v1h-1zM478 314h1v1h-1zM479 314h1v1h-1zM491 320h1v1h-1zM492 319h1v1h-1zM492 318h1v1h-1zM493 318h1v1h-1zM493 317h1v1h-1zM494 317h1v1h-1zM494 316h1v1h-1zM495 316h1v1h-1zM496 315h1v1h-1zM496 314h1v1h-1zM497 313h1v1h-1zM497 312h1v1h-1zM498 313h1v1h-1zM498 312h1v1h-1zM499 312h1v1h-1zM500 312h1v1h-1zM500 313h1v1h-1zM501 313h1v1h-1zM501 314h1v1h-1zM502 313h1v1h-1zM502 314h1v1h-1zM503 314h1v1h-1zM503 313h1v1h-1zM504 313h1v1h-1zM505 312h1v1h-1zM506 311h1v1h-1zM507 311h1v1h-1zM507 310h1v1h-1zM508 311h1v1h-1zM508 310h1v1h-1zM509 312h1v1h-1zM510 313h1v1h-1zM510 314h1v1h-1zM511 315h1v1h-1zM511 316h1v1h-1zM512 317h1v1h-1zM513 317h1v1h-1zM513 318h1v1h-1zM514 318h1v1h-1zM514 319h1v1h-1zM515 319h1v1h-1zM515 318h1v1h-1zM516 318h1v1h-1zM516 317h1v1h-1zM517 316h1v1h-1zM518 301h1v1h-1zM530 324h1v1h-1zM530 323h1v1h-1zM531 324h1v1h-1zM531 323h1v1h-1zM532 323h1v1h-1zM533 322h1v1h-1zM533 321h1v1h-1zM534 321h1v1h-1zM534 315h1v1h-1zM535 314h1v1h-1zM535 312h1v1h-1zM535 311h1v1h-1zM536 311h1v1h-1zM536 310h1v1h-1zM537 309h1v1h-1zM538 308h1v1h-1zM538 307h1v1h-1zM539 307h1v1h-1zM540 307h1v1h-1zM540 306h1v1h-1zM541 306h1v1h-1zM541 307h1v1h-1zM542 305h1v1h-1zM543 305h1v1h-1zM543 303h1v1h-1zM543 302h1v1h-1zM544 301h1v1h-1zM544 300h1v1h-1zM545 299h1v1h-1zM545 298h1v1h-1zM545 297h1v1h-1zM546 296h1v1h-1zM546 295h1v1h-1zM547 289h1v1h-1zM547 284h1v1h-1zM548 278h1v1h-1zM549 272h1v1h-1zM550 271h1v1h-1zM550 270h1v1h-1zM551 270h1v1h-1zM552 270h1v1h-1zM553 271h1v1h-1zM553 274h1v1h-1zM554 275h1v1h-1zM554 277h1v1h-1zM554 278h1v1h-1zM555 279h1v1h-1zM555 283h1v1h-1zM556 284h1v1h-1zM556 287h1v1h-1zM557 290h1v1h-1zM570 304h1v1h-1zM570 305h1v1h-1zM570 307h1v1h-1zM571 307h1v1h-1zM571 308h1v1h-1zM572 308h1v1h-1zM572 309h1v1h-1zM573 309h1v1h-1zM574 309h1v1h-1zM575 310h1v1h-1zM576 310h1v1h-1zM577 310h1v1h-1zM577 311h1v1h-1zM578 311h1v1h-1zM579 312h1v1h-1zM579 313h1v1h-1zM580 314h1v1h-1zM581 314h1v1h-1zM581 315h1v1h-1zM582 315h1v1h-1zM583 315h1v1h-1zM583 316h1v1h-1zM584 316h1v1h-1zM585 316h1v1h-1zM586 316h1v1h-1zM586 317h1v1h-1zM587 317h1v1h-1zM587 318h1v1h-1zM588 318h1v1h-1zM588 319h1v1h-1zM589 320h1v1h-1zM590 321h1v1h-1zM591 321h1v1h-1zM592 321h1v1h-1zM592 322h1v1h-1zM593 321h1v1h-1zM593 322h1v1h-1zM594 322h1v1h-1zM594 323h1v1h-1zM595 323h1v1h-1zM595 324h1v1h-1zM596 324h1v1h-1zM596 326h1v1h-1zM597 327h1v1h-1zM609 318h1v1h-1zM609 308h1v1h-1zM610 297h1v1h-1zM610 296h1v1h-1zM610 295h1v1h-1zM611 294h1v1h-1zM612 294h1v1h-1zM612 295h1v1h-1zM613 296h1v1h-1zM613 297h1v1h-1zM613 299h1v1h-1zM614 300h1v1h-1zM614 301h1v1h-1zM615 303h1v1h-1zM615 305h1v1h-1zM615 306h1v1h-1zM616 308h1v1h-1zM616 309h1v1h-1zM617 310h1v1h-1zM617 311h1v1h-1zM618 311h1v1h-1zM618 312h1v1h-1zM619 312h1v1h-1zM619 313h1v1h-1zM620 313h1v1h-1zM621 313h1v1h-1zM621 314h1v1h-1zM622 314h1v1h-1zM623 314h1v1h-1z" fill="#0000ff"/>
<path d="M52 321h1v1h-1zM53 319h1v1h-1zM53 320h1v1h-1zM54 320h1v1h-1zM54 321h1v1h-1zM55 321h1v1h-1zM55 320h1v1h-1zM56 319h1v1h-1zM56 320h1v1h-1zM57 319h1v1h-1zM57 318h1v1h-1zM58 317h1v1h-1zM58 316h1v1h-1zM58 311h1v1h-1zM58 293h1v1h-1zM59 287h1v1h-1zM60 300h1v1h-1zM60 301h1v1h-1zM61 303h1v1h-1zM61 304h1v1h-1zM61 308h1v1h-1zM61 309h1v1h-1zM62 310h1v1h-1zM62 312h1v1h-1zM62 314h1v1h-1zM63 295h1v1h-1zM64 294h1v1h-1zM64 302h1v1h-1zM64 308h1v1h-1zM64 309h1v1h-1zM65 310h1v1h-1zM65 312h1v1h-1zM65 314h1v1h-1zM65 315h1v1h-1zM66 315h1v1h-1zM66 317h1v1h-1zM67 319h1v1h-1zM67 320h1v1h-1zM68 321h1v1h-1zM68 322h1v1h-1zM69 323h1v1h-1zM70 323h1v1h-1zM70 324h1v1h-1zM71 324h1v1h-1zM72 324h1v1h-1zM73 325h1v1h-1zM74 324h1v1h-1zM75 324h1v1h-1zM76 324h1v1h-1zM76 323h1v1h-1zM77 324h1v1h-1zM78 325h1v1h-1zM79 325h1v1h-1zM79 326h1v1h-1zM80 326h1v1h-1zM80 327h1v1h-1zM81 327h1v1h-1zM81 326h1v1h-1zM82 327h1v1h-1zM83 326h1v1h-1zM84 326h1v1h-1zM85 327h1v1h-1zM85 326h1v1h-1zM86 327h1v1h-1zM87 327h1v1h-1zM88 327h1v1h-1zM89 327h1v1h-1zM90 327h1v1h-1zM91 327h1v1h-1zM92 326h1v1h-1zM93 326h1v1h-1zM93 327h1v1h-1zM94 327h1v1h-1zM94 328h1v1h-1zM95 328h1v1h-1zM95 329h1v1h-1zM96 330h1v1h-1zM97 331h1v1h-1zM98 330h1v1h-1zM98 331h1v1h-1zM99 330h1v1h-1zM99 329h1v1h-1zM100 329h1v1h-1zM101 328h1v1h-1zM102 328h1v1h-1zM103 329h1v1h-1zM103 328h1v1h-1zM104 329h1v1h-1zM105 329h1v1h-1zM105 330h1v1h-1zM106 330h1v1h-1zM106 329h1v1h-1zM107 330h1v1h-1zM107 329h1v1h-1zM108 329h1v1h-1zM108 328h1v1h-1zM109 328h1v1h-1zM109 327h1v1h-1zM110 327h1v1h-1zM110 321h1v1h-1zM110 309h1v1h-1zM110 306h1v1h-1zM111 306h1v1h-1zM111 307h1v1h-1zM112 306h1v1h-1zM112 305h1v1h-1zM113 305h1v1h-1zM114 305h1v1h-1zM114 304h1v1h-1zM115 303h1v1h-1zM116 303h1v1h-1zM116 304h1v1h-1zM117 306h1v1h-1zM117 308h1v1h-1zM117 309h1v1h-1zM118 310h1v1h-1zM118 311h1v1h-1zM119 313h1v1h-1zM119 314h1v1h-1zM119 315h1v1h-1zM120 316h1v1h-1zM120 318h1v1h-1zM121 319h1v1h-1zM121 320h1v1h-1zM121 321h1v1h-1zM122 321h1v1h-1zM122 322h1v1h-1zM123 321h1v1h-1zM123 322h1v1h-1zM123 323h1v1h-1zM124 323h1v1h-1zM124 324h1v1h-1zM125 324h1v1h-1zM125 325h1v1h-1zM126 325h1v1h-1zM127 324h1v1h-1zM127 325h1v1h-1zM128 324h1v1h-1zM128 323h1v1h-1zM129 323h1v1h-1zM129 322h1v1h-1zM130 316h1v1h-1zM130 261h1v1h-1zM131 233h1v1h-1zM131 241h1v1h-1zM131 255h1v1h-1zM132 270h1v1h-1zM132 282h1v1h-1zM133 292h1v1h-1zM133 295h1v1h-1zM134 296h1v1h-1zM134 300h1v1h-1zM135 307h1v1h-1zM135 314h1v1h-1zM135 318h1v1h-1zM136 321h1v1h-1zM137 320h1v1h-1zM137 312h1v1h-1zM137 308h1v1h-1zM137 298h1v1h-1zM138 287h1v1h-1zM138 282h1v1h-1zM139 278h1v1h-1zM139 265h1v1h-1zM139 247h1v1h-1zM140 238h1v1h-1zM140 239h1v1h-1zM141 240h1v1h-1zM141 241h1v1h-1zM141 249h1v1h-1zM141 257h1v1h-1zM142 267h1v1h-1zM142 278h1v1h-1zM143 291h1v1h-1zM143 295h1v1h-1zM143 303h1v1h-1zM144 310h1v1h-1zM144 318h1v1h-1zM145 322h1v1h-1zM145 324h1v1h-1zM145 326h1v1h-1zM146 326h1v1h-1zM146 327h1v1h-1zM146 328h1v1h-1zM147 329h1v1h-1zM147 330h1v1h-1zM148 330h1v1h-1zM148 331h1v1h-1zM149 332h1v1h-1zM149 333h1v1h-1zM150 334h1v1h-1zM150 335h1v1h-1zM151 336h1v1h-1zM152 336h1v1h-1zM153 336h1v1h-1zM153 335h1v1h-1zM154 335h1v1h-1zM154 334h1v1h-1zM155 335h1v1h-1zM156 335h1v1h-1zM156 336h1v1h-1zM157 335h1v1h-1zM158 335h1v1h-1zM158 336h1v1h-1zM159 336h1v1h-1zM160 336h1v1h-1zM161 336h1v1h-1zM162 336h1v1h-1zM162 335h1v1h-1zM163 336h1v1h-1zM164 336h1v1h-1zM164 335h1v1h-1zM165 336h1v1h-1zM166 337h1v1h-1zM167 337h1v1h-1zM168 336h1v1h-1zM169 335h1v1h-1zM170 334h1v1h-1zM170 335h1v1h-1zM171 335h1v1h-1zM171 336h1v1h-1zM172 336h1v1h-1zM173 336h1v1h-1zM174 337h1v1h-1zM175 338h1v1h-1zM176 338h1v1h-1zM177 338h1v1h-1zM178 338h1v1h-1zM178 337h1v1h-1zM179 337h1v1h-1zM179 336h1v1h-1zM180 336h1v1h-1zM180 335h1v1h-1zM181 335h1v1h-1zM181 336h1v1h-1zM182 335h1v1h-1zM183 335h1v1h-1zM184 336h1v1h-1zM185 336h1v1h-1zM185 337h1v1h-1zM186 336h1v1h-1zM186 337h1v1h-1zM187 337h1v1h-1zM187 338h1v1h-1zM188 338h1v1h-1zM189 338h1v1h-1zM189 339h1v1h-1zM190 340h1v1h-1zM191 341h1v1h-1zM191 340h1v1h-1zM192 340h1v1h-1zM192 341h1v1h-1zM193 341h1v1h-1zM194 341h1v1h-1zM195 341h1v1h-1zM195 340h1v1h-1zM196 341h1v1h-1zM196 340h1v1h-1zM197 340h1v1h-1zM197 339h1v1h-1zM198 339h1v1h-1zM199 338h1v1h-1zM200 338h1v1h-1zM200 337h1v1h-1zM200 336h1v1h-1zM201 336h1v1h-1zM202 336h1v1h-1zM203 336h1v1h-1zM203 337h1v1h-1zM204 337h1v1h-1zM205 338h1v1h-1zM205 337h1v1h-1zM206 338h1v1h-1zM206 337h1v1h-1zM208 332h1v1h-1zM211 329h1v1h-1zM211 328h1v1h-1zM212 328h1v1h-1zM212 329h1v1h-1zM213 330h1v1h-1zM213 331h1v1h-1zM214 332h1v1h-1zM215 332h1v1h-1zM215 333h1v1h-1zM216 334h1v1h-1zM217 335h1v1h-1zM218 336h1v1h-1zM218 335h1v1h-1zM219 336h1v1h-1zM220 336h1v1h-1zM221 336h1v1h-1zM221 335h1v1h-1zM221 334h1v1h-1zM222 333h1v1h-1zM222 332h1v1h-1zM222 331h1v1h-1zM223 330h1v1h-1zM223 329h1v1h-1zM223 328h1v1h-1zM224 328h1v1h-1zM224 324h1v1h-1zM224 325h1v1h-1zM225 326h1v1h-1zM225 328h1v1h-1zM226 330h1v1h-1zM226 331h1v1h-1zM227 332h1v1h-1zM227 333h1v1h-1zM228 333h1v1h-1zM229 333h1v1h-1zM230 334h1v1h-1zM231 334h1v1h-1zM232 334h1v1h-1zM233 334h1v1h-1zM233 333h1v1h-1zM234 333h1v1h-1zM234 334h1v1h-1zM235 334h1v1h-1zM235 333h1v1h-1zM236 333h1v1h-1zM236 334h1v1h-1zM237 334h1v1h-1zM238 334h1v1h-1zM238 333h1v1h-1zM239 333h1v1h-1zM240 333h1v1h-1zM240 332h1v1h-1zM241 331h1v1h-1zM242 316h1v1h-1zM242 323h1v1h-1zM243 326h1v1h-1zM244 329h1v1h-1zM245 328h1v1h-1zM245 329h1v1h-1zM246 328h1v1h-1zM247 328h1v1h-1zM248 327h1v1h-1zM248 328h1v1h-1zM249 328h1v1h-1zM249 329h1v1h-1zM250 329h1v1h-1zM250 330h1v1h-1zM251 330h1v1h-1zM251 329h1v1h-1zM252 329h1v1h-1zM253 329h1v1h-1zM254 329h1v1h-1zM255 329h1v1h-1zM255 330h1v1h-1zM256 331h1v1h-1zM256 332h1v1h-1zM257 332h1v1h-1zM257 333h1v1h-1zM258 332h1v1h-1zM258 333h1v1h-1zM259 333h1v1h-1zM259 332h1v1h-1zM260 332h1v1h-1zM260 331h1v1h-1zM261 326h1v1h-1zM261 321h1v1h-1zM262 320h1v1h-1zM262 319h1v1h-1zM262 318h1v1h-1zM263 317h1v1h-1zM263 318h1v1h-1zM264 317h1v1h-1zM265 318h1v1h-1zM266 319h1v1h-1zM267 319h1v1h-1zM268 320h1v1h-1zM268 321h1v1h-1zM269 316h1v1h-1zM269 315h1v1h-1zM270 313h1v1h-1zM270 311h1v1h-1zM271 313h1v1h-1zM271 315h1v1h-1zM271 317h1v1h-1zM272 319h1v1h-1zM272 320h1v1h-1zM273 321h1v1h-1zM273 322h1v1h-1zM273 323h1v1h-1zM274 324h1v1h-1zM274 325h1v1h-1zM275 326h1v1h-1zM275 327h1v1h-1zM276 328h1v1h-1zM276 329h1v1h-1zM277 329h1v1h-1zM278 330h1v1h-1zM278 331h1v1h-1zM279 331h1v1h-1zM279 332h1v1h-1zM280 333h1v1h-1zM281 333h1v1h-1zM281 334h1v1h-1zM282 334h1v1h-1zM282 333h1v1h-1zM283 334h1v1h-1zM284 333h1v1h-1zM284 334h1v1h-1zM285 334h1v1h-1zM286 334h1v1h-1zM287 333h1v1h-1zM288 329h1v1h-1zM288 316h1v1h-1zM289 310h1v1h-1zM290 307h1v1h-1zM290 309h1v1h-1zM290 310h1v1h-1zM291 313h1v1h-1zM291 314h1v1h-1zM291 315h1v1h-1zM292 316h1v1h-1zM293 316h1v1h-1zM293 317h1v1h-1zM294 318h1v1h-1zM294 319h1v1h-1zM295 319h1v1h-1zM295 320h1v1h-1zM296 320h1v1h-1zM296 321h1v1h-1zM296 322h1v1h-1zM297 323h1v1h-1zM298 325h1v1h-1zM299 326h1v1h-1zM299 327h1v1h-1zM300 327h1v1h-1zM300 328h1v1h-1zM301 328h1v1h-1zM301 329h1v1h-1zM302 330h1v1h-1zM302 329h1v1h-1zM303 330h1v1h-1zM303 331h1v1h-1zM304 331h1v1h-1zM305 331h1v1h-1zM305 332h1v1h-1zM306 331h1v1h-1zM307 331h1v1h-1zM307 332h1v1h-1zM308 332h1v1h-1zM308 333h1v1h-1zM308 331h1v1h-1zM309 330h1v1h-1zM309 329h1v1h-1zM310 328h1v1h-1zM310 327h1v1h-1zM311 328h1v1h-1zM312 329h1v1h-1zM313 330h1v1h-1zM313 331h1v1h-1zM313 332h1v1h-1zM314 332h1v1h-1zM314 333h1v1h-1zM315 333h1v1h-1zM316 334h1v1h-1zM317 334h1v1h-1zM317 333h1v1h-1zM318 333h1v1h-1zM318 331h1v1h-1zM319 331h1v1h-1zM319 330h1v1h-1zM319 329h1v1h-1zM320 327h1v1h-1zM320 326h1v1h-1zM321 324h1v1h-1zM321 322h1v1h-1zM322 320h1v1h-1zM322 314h1v1h-1zM323 261h1v1h-1zM323 216h1v1h-1zM323 203h1v1h-1zM324 201h1v1h-1zM324 200h1v1h-1zM324 206h1v1h-1zM325 213h1v1h-1zM325 220h1v1h-1zM326 229h1v1h-1zM326 238h1v1h-1zM326 246h1v1h-1zM327 255h1v1h-1zM327 263h1v1h-1zM328 271h1v1h-1zM328 279h1v1h-1zM328 285h1v1h-1zM329 292h1v1h-1zM329 298h1v1h-1zM330 303h1v1h-1zM330 308h1v1h-1zM331 313h1v1h-1zM331 316h1v1h-1zM331 318h1v1h-1zM332 320h1v1h-1zM332 322h1v1h-1zM333 324h1v1h-1zM333 325h1v1h-1zM333 326h1v1h-1zM334 327h1v1h-1zM334 328h1v1h-1zM335 329h1v1h-1zM335 330h1v1h-1zM336 331h1v1h-1zM336 332h1v1h-1zM337 332h1v1h-1zM337 333h1v1h-1zM338 333h1v1h-1zM339 334h1v1h-1zM340 334h1v1h-1zM341 335h1v1h-1zM342 335h1v1h-1zM342 336h1v1h-1zM343 335h1v1h-1zM343 336h1v1h-1zM344 335h1v1h-1zM345 335h1v1h-1zM345 334h1v1h-1zM346 334h1v1h-1zM346 333h1v1h-1zM346 332h1v1h-1zM347 331h1v1h-1zM348 326h1v1h-1zM348 325h1v1h-1zM349 325h1v1h-1zM350 326h1v1h-1zM350 327h1v1h-1zM351 326h1v1h-1zM352 326h1v1h-1zM352 328h1v1h-1zM353 328h1v1h-1zM353 329h1v1h-1zM353 330h1v1h-1zM354 330h1v1h-1zM354 331h1v1h-1zM355 331h1v1h-1zM355 332h1v1h-1zM355 333h1v1h-1zM356 333h1v1h-1zM357 333h1v1h-1zM357 334h1v1h-1zM358 334h1v1h-1zM359 334h1v1h-1zM360 334h1v1h-1zM361 333h1v1h-1zM361 332h1v1h-1zM362 331h1v1h-1zM363 330h1v1h-1zM363 329h1v1h-1zM363 321h1v1h-1zM363 314h1v1h-1zM364 302h1v1h-1zM364 289h1v1h-1zM365 280h1v1h-1zM365 273h1v1h-1zM366 274h1v1h-1zM366 276h1v1h-1zM367 278h1v1h-1zM367 279h1v1h-1zM367 282h1v1h-1zM367 285h1v1h-1zM367 286h1v1h-1zM368 287h1v1h-1zM368 288h1v1h-1zM368 291h1v1h-1zM369 293h1v1h-1zM369 295h1v1h-1zM370 300h1v1h-1zM370 301h1v1h-1zM370 303h1v1h-1zM371 307h1v1h-1zM372 312h1v1h-1zM373 316h1v1h-1zM373 320h1v1h-1zM374 321h1v1h-1zM374 322h1v1h-1zM375 323h1v1h-1zM375 324h1v1h-1zM376 325h1v1h-1zM376 326h1v1h-1zM377 327h1v1h-1zM377 328h1v1h-1zM378 328h1v1h-1zM378 330h1v1h-1zM379 330h1v1h-1zM380 331h1v1h-1zM380 332h1v1h-1zM381 332h1v1h-1zM382 333h1v1h-1zM382 334h1v1h-1zM382 335h1v1h-1zM383 335h1v1h-1zM384 336h1v1h-1zM385 337h1v1h-1zM386 337h1v1h-1zM387 337h1v1h-1zM387 336h1v1h-1zM388 336h1v1h-1zM389 337h1v1h-1zM389 336h1v1h-1zM390 336h1v1h-1zM391 336h1v1h-1zM392 336h1v1h-1zM393 336h1v1h-1zM393 335h1v1h-1zM394 330h1v1h-1zM395 269h1v1h-1zM395 231h1v1h-1zM396 232h1v1h-1zM396 233h1v1h-1zM396 242h1v1h-1zM397 250h1v1h-1zM398 265h1v1h-1zM398 275h1v1h-1zM399 286h1v1h-1zM400 301h1v1h-1zM400 306h1v1h-1zM400 311h1v1h-1zM400 314h1v1h-1zM401 316h1v1h-1zM401 317h1v1h-1zM401 320h1v1h-1zM401 321h1v1h-1zM402 322h1v1h-1zM402 324h1v1h-1zM403 326h1v1h-1zM403 327h1v1h-1zM404 329h1v1h-1zM404 330h1v1h-1zM405 331h1v1h-1zM405 332h1v1h-1zM406 332h1v1h-1zM406 333h1v1h-1zM406 334h1v1h-1zM407 334h1v1h-1zM407 333h1v1h-1zM408 333h1v1h-1zM408 332h1v1h-1zM409 333h1v1h-1zM410 333h1v1h-1zM410 334h1v1h-1zM411 333h1v1h-1zM411 332h1v1h-1zM412 332h1v1h-1zM413 332h1v1h-1zM413 331h1v1h-1zM414 331h1v1h-1zM415 331h1v1h-1zM415 330h1v1h-1zM416 329h1v1h-1zM417 328h1v1h-1zM417 327h1v1h-1zM418 327h1v1h-1zM418 326h1v1h-1zM419 326h1v1h-1zM420 326h1v1h-1zM421 326h1v1h-1zM421 327h1v1h-1zM422 327h1v1h-1zM422 328h1v1h-1zM423 328h1v1h-1zM423 329h1v1h-1zM424 329h1v1h-1zM424 328h1v1h-1zM425 329h1v1h-1zM426 329h1v1h-1zM426 328h1v1h-1zM427 328h1v1h-1zM427 327h1v1h-1zM428 327h1v1h-1zM428 326h1v1h-1zM428 325h1v1h-1zM429 324h1v1h-1zM429 323h1v1h-1zM430 322h1v1h-1zM430 321h1v1h-1zM430 320h1v1h-1zM431 319h1v1h-1zM431 318h1v1h-1zM432 314h1v1h-1zM431 310h1v1h-1zM432 310h1v1h-1zM433 310h1v1h-1zM433 318h1v1h-1zM434 321h1v1h-1zM434 324h1v1h-1zM434 325h1v1h-1zM435 326h1v1h-1zM435 327h1v1h-1zM436 328h1v1h-1zM436 329h1v1h-1zM437 330h1v1h-1zM438 329h1v1h-1zM438 330h1v1h-1zM439 331h1v1h-1zM439 330h1v1h-1zM440 330h1v1h-1zM440 329h1v1h-1zM441 329h1v1h-1zM441 328h1v1h-1zM441 327h1v1h-1zM442 327h1v1h-1zM442 326h1v1h-1zM443 326h1v1h-1zM443 325h1v1h-1zM444 325h1v1h-1zM444 324h1v1h-1zM445 324h1v1h-1zM446 324h1v1h-1zM446 323h1v1h-1zM446 321h1v1h-1zM447 319h1v1h-1zM447 318h1v1h-1zM447 306h1v1h-1zM448 292h1v1h-1zM448 275h1v1h-1zM449 264h1v1h-1zM449 269h1v1h-1zM449 271h1v1h-1zM450 272h1v1h-1zM450 274h1v1h-1zM450 277h1v1h-1zM450 279h1v1h-1zM451 280h1v1h-1zM451 281h1v1h-1zM451 284h1v1h-1zM451 285h1v1h-1zM452 286h1v1h-1zM452 289h1v1h-1zM452 291h1v1h-1zM453 292h1v1h-1zM453 294h1v1h-1zM453 298h1v1h-1zM453 300h1v1h-1zM454 301h1v1h-1zM454 304h1v1h-1zM455 304h1v1h-1zM455 305h1v1h-1zM456 306h1v1h-1zM456 303h1v1h-1zM456 300h1v1h-1zM457 297h1v1h-1zM457 295h1v1h-1zM458 289h1v1h-1zM459 283h1v1h-1zM459 282h1v1h-1zM460 281h1v1h-1zM460 279h1v1h-1zM460 274h1v1h-1zM460 275h1v1h-1zM461 275h1v1h-1zM461 276h1v1h-1zM462 291h1v1h-1zM463 284h1v1h-1zM464 272h1v1h-1zM464 269h1v1h-1zM464 261h1v1h-1zM464 249h1v1h-1zM464 246h1v1h-1zM465 243h1v1h-1zM465 242h1v1h-1zM465 239h1v1h-1zM466 238h1v1h-1zM466 237h1v1h-1zM466 241h1v1h-1zM467 246h1v1h-1zM468 254h1v1h-1zM468 262h1v1h-1zM469 270h1v1h-1zM469 276h1v1h-1zM470 285h1v1h-1zM470 290h1v1h-1zM470 291h1v1h-1zM471 292h1v1h-1zM471 294h1v1h-1zM471 298h1v1h-1zM471 299h1v1h-1zM472 300h1v1h-1zM472 302h1v1h-1zM473 307h1v1h-1zM473 311h1v1h-1zM474 316h1v1h-1zM474 317h1v1h-1zM475 319h1v1h-1zM475 321h1v1h-1zM476 322h1v1h-1zM476 323h1v1h-1zM477 325h1v1h-1zM477 326h1v1h-1zM478 327h1v1h-1zM478 328h1v1h-1zM479 329h1v1h-1zM479 330h1v1h-1zM480 330h1v1h-1zM480 331h1v1h-1zM481 332h1v1h-1zM482 332h1v1h-1zM483 332h1v1h-1zM483 333h1v1h-1zM484 333h1v1h-1zM484 332h1v1h-1zM484 331h1v1h-1zM485 331h1v1h-1zM485 330h1v1h-1zM486 329h1v1h-1zM486 328h1v1h-1zM487 326h1v1h-1zM488 326h1v1h-1zM489 326h1v1h-1zM490 326h1v1h-1zM491 326h1v1h-1zM492 326h1v1h-1zM492 325h1v1h-1zM493 326h1v1h-1zM494 325h1v1h-1zM495 325h1v1h-1zM496 324h1v1h-1zM496 325h1v1h-1zM497 324h1v1h-1zM497 323h1v1h-1zM497 322h1v1h-1zM498 321h1v1h-1zM498 320h1v1h-1zM499 320h1v1h-1zM499 321h1v1h-1zM500 321h1v1h-1zM501 321h1v1h-1zM501 322h1v1h-1zM502 322h1v1h-1zM502 323h1v1h-1zM503 323h1v1h-1zM504 323h1v1h-1zM505 323h1v1h-1zM505 322h1v1h-1zM505 321h1v1h-1zM506 321h1v1h-1zM506 320h1v1h-1zM507 320h1v1h-1zM507 319h1v1h-1zM508 319h1v1h-1zM508 320h1v1h-1zM509 321h1v1h-1zM509 322h1v1h-1zM510 322h1v1h-1zM510 323h1v1h-1zM510 324h1v1h-1zM511 325h1v1h-1zM511 326h1v1h-1zM512 326h1v1h-1zM512 327h1v1h-1zM513 327h1v1h-1zM513 328h1v1h-1zM513 329h1v1h-1zM514 328h1v1h-1zM514 329h1v1h-1zM515 329h1v1h-1zM515 328h1v1h-1zM515 327h1v1h-1zM516 325h1v1h-1zM517 316h1v1h-1zM518 308h1v1h-1zM518 307h1v1h-1zM519 306h1v1h-1zM519 308h1v1h-1zM519 309h1v1h-1zM520 310h1v1h-1zM521 315h1v1h-1zM521 317h1v1h-1zM521 318h1v1h-1zM522 320h1v1h-1zM522 322h1v1h-1zM523 324h1v1h-1zM523 325h1v1h-1zM524 326h1v1h-1zM524 327h1v1h-1zM525 328h1v1h-1zM526 328h1v1h-1zM526 329h1v1h-1zM527 329h1v1h-1zM527 328h1v1h-1zM528 329h1v1h-1zM528 328h1v1h-1zM529 328h1v1h-1zM530 328h1v1h-1zM531 327h1v1h-1zM532 327h1v1h-1zM533 326h1v1h-1zM534 321h1v1h-1zM534 316h1v1h-1zM535 315h1v1h-1zM535 314h1v1h-1zM536 314h1v1h-1zM536 315h1v1h-1zM537 315h1v1h-1zM537 314h1v1h-1zM538 313h1v1h-1zM538 312h1v1h-1zM539 313h1v1h-1zM540 313h1v1h-1zM540 314h1v1h-1zM540 315h1v1h-1zM541 315h1v1h-1zM542 314h1v1h-1zM542 313h1v1h-1zM543 313h1v1h-1zM543 307h1v1h-1zM544 305h1v1h-1zM544 303h1v1h-1zM544 302h1v1h-1zM545 296h1v1h-1zM546 290h1v1h-1zM547 285h1v1h-1zM547 279h1v1h-1zM548 273h1v1h-1zM548 271h1v1h-1zM548 270h1v1h-1zM549 270h1v1h-1zM549 271h1v1h-1zM550 272h1v1h-1zM551 273h1v1h-1zM552 275h1v1h-1zM552 276h1v1h-1zM553 278h1v1h-1zM553 284h1v1h-1zM554 289h1v1h-1zM555 295h1v1h-1zM556 301h1v1h-1zM557 306h1v1h-1zM557 307h1v1h-1zM557 309h1v1h-1zM558 310h1v1h-1zM558 311h1v1h-1zM559 313h1v1h-1zM559 314h1v1h-1zM560 315h1v1h-1zM560 317h1v1h-1zM561 317h1v1h-1zM561 318h1v1h-1zM562 318h1v1h-1zM563 309h1v1h-1zM563 310h1v1h-1zM564 311h1v1h-1zM564 312h1v1h-1zM565 313h1v1h-1zM565 314h1v1h-1zM566 315h1v1h-1zM566 316h1v1h-1zM568 302h1v1h-1zM568 307h1v1h-1zM569 311h1v1h-1zM570 312h1v1h-1zM570 313h1v1h-1zM570 317h1v1h-1zM571 318h1v1h-1zM572 318h1v1h-1zM573 318h1v1h-1zM573 319h1v1h-1zM574 319h1v1h-1zM575 320h1v1h-1zM576 320h1v1h-1zM577 319h1v1h-1zM577 320h1v1h-1zM578 320h1v1h-1zM578 319h1v1h-1zM579 320h1v1h-1zM579 319h1v1h-1zM580 320h1v1h-1zM580 321h1v1h-1zM580 322h1v1h-1zM581 323h1v1h-1zM581 324h1v1h-1zM582 325h1v1h-1zM583 326h1v1h-1zM584 327h1v1h-1zM585 327h1v1h-1zM586 327h1v1h-1zM587 328h1v1h-1zM587 329h1v1h-1zM588 329h1v1h-1zM588 330h1v1h-1zM589 330h1v1h-1zM589 331h1v1h-1zM590 331h1v1h-1zM590 332h1v1h-1zM591 332h1v1h-1zM592 332h1v1h-1zM592 333h1v1h-1zM593 333h1v1h-1zM593 332h1v1h-1zM594 333h1v1h-1zM595 333h1v1h-1zM596 333h1v1h-1zM596 334h1v1h-1zM597 334h1v1h-1zM597 333h1v1h-1zM598 331h1v1h-1zM598 330h1v1h-1zM599 330h1v1h-1zM600 332h1v1h-1zM600 333h1v1h-1zM601 333h1v1h-1zM602 334h1v1h-1zM603 334h1v1h-1zM603 333h1v1h-1zM604 334h1v1h-1zM604 333h1v1h-1zM605 333h1v1h-1zM606 333h1v1h-1zM606 332h1v1h-1zM607 332h1v1h-1zM607 331h1v1h-1zM608 331h1v1h-1zM608 329h1v1h-1zM609 329h1v1h-1zM609 320h1v1h-1zM609 306h1v1h-1zM610 294h1v1h-1zM611 295h1v1h-1zM611 296h1v1h-1zM612 297h1v1h-1zM612 299h1v1h-1zM613 300h1v1h-1zM613 302h1v1h-1zM613 304h1v1h-1zM614 306h1v1h-1zM615 309h1v1h-1zM615 311h1v1h-1zM615 312h1v1h-1zM616 314h1v1h-1zM616 315h1v1h-1zM616 317h1v1h-1zM617 318h1v1h-1zM617 320h1v1h-1zM618 321h1v1h-1zM619 322h1v1h-1zM619 323h1v1h-1zM620 323h1v1h-1zM620 322h1v1h-1zM621 322h1v1h-1zM622 322h1v1h-1zM623 322h1v1h-1z" fill="#ff0000"/>

<path d="M52 24.5H625M52 444.5H625M52.5 24V445M624.5 24V445M52 129.5H625M52 234.5H625M52 339.5H625M52.5 24V33M52.5 436V445M76.5 24V29M76.5 440V445M100.5 24V29M100.5 440V445M124.5 24V29M124.5 440V445M147.5 24V29M147.5 440V445M171.5 24V33M171.5 436V445M195.5 24V29M195.5 440V445M219.5 24V29M219.5 440V445M243.5 24V29M243.5 440V445M266.5 24V29M266.5 440V445M290.5 24V33M290.5 436V445M314.5 24V29M314.5 440V445M338.5 24V29M338.5 440V445M362.5 24V29M362.5 440V445M386.5 24V29M386.5 440V445M410.5 24V33M410.5 436V445M433.5 24V29M433.5 440V445M457.5 24V29M457.5 440V445M481.5 24V29M481.5 440V445M505.5 24V29M505.5 440V445M529.5 24V33M529.5 436V445M552.5 24V29M552.5 440V445M576.5 24V29M576.5 440V445M600.5 24V29M600.5 440V445M624.5 24V29M624.5 440V445M52 97.5H59M618 97.5H625M52 79.5H59M618 79.5H625M52 66.5H59M618 66.5H625M52 56.5H59M618 56.5H625M52 47.5H59M618 47.5H625M52 40.5H59M618 40.5H625M52 34.5H59M618 34.5H625M52 29.5H59M618 29.5H625M52 202.5H59M618 202.5H625M52 184.5H59M618 184.5H625M52 171.5H59M618 171.5H625M52 161.5H59M618 161.5H625M52 152.5H59M618 152.5H625M52 145.5H59M618 145.5H625M52 139.5H59M618 139.5H625M52 134.5H59M618 134.5H625M52 307.5H59M618 307.5H625M52 289.5H59M618 289.5H625M52 276.5H59M618 276.5H625M52 266.5H59M618 266.5H625M52 257.5H59M618 257.5H625M52 250.5H59M618 250.5H625M52 244.5H59M618 244.5H625M52 239.5H59M618 239.5H625M52 412.5H59M618 412.5H625M52 394.5H59M618 394.5H625M52 381.5H59M618 381.5H625M52 371.5H59M618 371.5H625M52 362.5H59M618 362.5H625M52 355.5H59M618 355.5H625M52 349.5H59M618 349.5H625M52 344.5H59M618 344.5H625" stroke="#000" stroke-width="1" fill="none"/>
<text font-size="12.6"><tspan x="157.5" y="19" textLength="31.5" lengthAdjust="spacingAndGlyphs">GOES</tspan> <tspan x="196" y="19" textLength="69.5" lengthAdjust="spacingAndGlyphs">0.1−0.8nm</tspan> <tspan x="272.4" y="19" textLength="33.6" lengthAdjust="spacingAndGlyphs">(red),</tspan> <tspan x="313" y="19" textLength="28" lengthAdjust="spacingAndGlyphs">LYRA</tspan> <tspan x="347" y="19" textLength="10.5" lengthAdjust="spacingAndGlyphs">Al</tspan> <tspan x="365" y="19" textLength="34" lengthAdjust="spacingAndGlyphs">(blue)</tspan> <tspan x="406.7" y="19">&amp;</tspan> <tspan x="424" y="19" textLength="12" lengthAdjust="spacingAndGlyphs">Zr</tspan> <tspan x="443.6" y="19" textLength="35.4" lengthAdjust="spacingAndGlyphs">(grey)</tspan> <tspan x="487" y="19" textLength="31.7" lengthAdjust="spacingAndGlyphs">proxy</tspan></text>
<text font-size="10"><tspan x="266" y="470" textLength="22.5" lengthAdjust="spacingAndGlyphs">Time</tspan> <tspan x="294.5" y="472" font-size="15.8" rotate="16.3">/</tspan> <tspan x="306.5" y="470">h</tspan> <tspan x="317.2" y="470" textLength="22.0" lengthAdjust="spacingAndGlyphs">UTC,</tspan> <tspan x="345.2" y="470" textLength="9.2" lengthAdjust="spacingAndGlyphs">13</tspan> <tspan x="360.4" y="470" textLength="15.4" lengthAdjust="spacingAndGlyphs">Dec</tspan> <tspan x="381.8" y="470" textLength="28.0" lengthAdjust="spacingAndGlyphs">2024</tspan></text>
<text font-size="10.8"><tspan x="488.9" y="494.8" textLength="20.1" lengthAdjust="spacingAndGlyphs">ROB</tspan><tspan x="509.6" y="497.2" font-size="17.5" rotate="8.9">/</tspan><tspan x="517.2" y="494.8" textLength="25.6" lengthAdjust="spacingAndGlyphs">SIDC,</tspan> <tspan x="549.3" y="494.8" textLength="45.7" lengthAdjust="spacingAndGlyphs">Brussels,</tspan> <tspan x="601.6" y="494.8" textLength="40.6" lengthAdjust="spacingAndGlyphs">Belgium</tspan></text>
<text x="49.4" y="458.2" font-size="10" textLength="5.600000000000001" lengthAdjust="spacingAndGlyphs">0</text>
<text x="168.8" y="458.2" font-size="10" textLength="5.199999999999989" lengthAdjust="spacingAndGlyphs">5</text>
<text x="286" y="458.2" font-size="10" textLength="10" lengthAdjust="spacingAndGlyphs">10</text>
<text x="405.4" y="458.2" font-size="10" textLength="9.600000000000023" lengthAdjust="spacingAndGlyphs">15</text>
<text x="522.8" y="458.2" font-size="10" textLength="12.200000000000045" lengthAdjust="spacingAndGlyphs">20</text>
<text x="34" y="30" font-size="9.2" class="s" textLength="8.4" lengthAdjust="spacingAndGlyphs">10</text>
<text x="43" y="26" font-size="5.6" class="s" textLength="7.5" lengthAdjust="spacingAndGlyphs">−3</text>
<text x="34" y="133" font-size="9.2" class="s" textLength="8.4" lengthAdjust="spacingAndGlyphs">10</text>
<text x="43" y="129" font-size="5.6" class="s" textLength="7.5" lengthAdjust="spacingAndGlyphs">−4</text>
<text x="34" y="238" font-size="9.2" class="s" textLength="8.4" lengthAdjust="spacingAndGlyphs">10</text>
<text x="43" y="234" font-size="5.6" class="s" textLength="7.5" lengthAdjust="spacingAndGlyphs">−5</text>
<text x="34" y="343" font-size="9.2" class="s" textLength="8.4" lengthAdjust="spacingAndGlyphs">10</text>
<text x="43" y="339" font-size="5.6" class="s" textLength="7.5" lengthAdjust="spacingAndGlyphs">−6</text>
<text x="34" y="445" font-size="9.2" class="s" textLength="8.4" lengthAdjust="spacingAndGlyphs">10</text>
<text x="43" y="441" font-size="5.6" class="s" textLength="7.5" lengthAdjust="spacingAndGlyphs">−7</text>
<text x="631.6" y="80.1" font-size="10.2">X</text>
<text x="631.6" y="185.1" font-size="10.2">M</text>
<text x="631.6" y="290.1" font-size="10.2">C</text>
<text x="631.6" y="395.1" font-size="10.2">B</text>
<g transform="translate(25.6 289.5) rotate(-90)">
<text font-size="8.3" class="s"><tspan x="0" y="0" textLength="17.3" lengthAdjust="spacingAndGlyphs">GOES</tspan> <tspan x="22.1" y="0" textLength="34.8" lengthAdjust="spacingAndGlyphs">Irradiance</tspan> <tspan x="62.2" y="1.5" font-size="13.7" rotate="17.6">/</tspan> <tspan x="73.2" y="0" textLength="10.1" lengthAdjust="spacingAndGlyphs">(W</tspan> <tspan x="87.8" y="0">m</tspan></text>
<text x="94.8" y="-3.3" font-size="5.4" class="s" textLength="6" lengthAdjust="spacingAndGlyphs">−2</text>
<text x="103" y="0" font-size="8" class="s">)</text>
</g>
</svg></body></html>
